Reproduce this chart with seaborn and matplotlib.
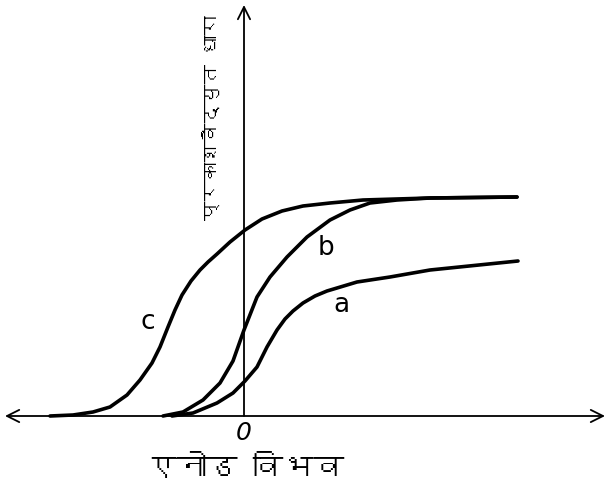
"""
plot.py

Photoelectric current vs anode potential (hand-drawn textbook sketch).
Three curves a, b, c; Hindi axis labels.
"""

import matplotlib
matplotlib.use("Agg")
import matplotlib.pyplot as plt
from matplotlib import font_manager
from matplotlib.ft2font import FT2Font
import pandas as pd
import seaborn as sns

# ==========================================
# DATA (arbitrary units)
# ==========================================
c_x = [-19.4, -17.1, -15.1, -13.4, -11.7, -10.4, -9.2, -8.4, -7.6, -6.9, -6.2, -5.3, -4.4,
       -3.6, -2.7, -1.4, 0.1, 1.8, 3.8, 5.9, 8.6, 11.9, 18.6, 27.3]
c_y = [0.0, 0.1, 0.4, 0.9, 2.1, 3.6, 5.3, 6.9, 8.9, 10.6, 12.1, 13.5, 14.6,
       15.4, 16.2, 17.4, 18.6, 19.7, 20.5, 21.0, 21.3, 21.6, 21.8, 21.9]

b_x = [-8.1, -6.1, -4.1, -2.4, -1.1, 0.0, 1.3, 2.6, 4.3, 6.3, 8.6, 10.6, 12.6, 15.3, 18.6, 27.3]
b_y = [0.0, 0.4, 1.6, 3.3, 5.5, 8.6, 11.9, 13.9, 15.9, 17.9, 19.6, 20.6, 21.3, 21.6, 21.8, 21.9]

a_x = [-7.2, -5.1, -2.7, -1.1, 0.1, 1.3, 2.3, 3.3, 4.1, 4.9, 5.9, 7.1, 8.3, 11.3, 14.6, 18.6, 27.4]
a_y = [0.0, 0.3, 1.3, 2.3, 3.5, 4.9, 6.9, 8.6, 9.7, 10.5, 11.3, 12.0, 12.5, 13.4, 13.9, 14.6, 15.5]

curve_names = ["c", "b", "a"]
curve_labels = {"c": (-9.6, 9.4), "b": (8.2, 16.8), "a": (9.7, 11.1)}

x_label = "एनोड विभव"
y_label = "प्रकाशवैद्युत धारा"
origin_label = "0"


def devanagari_font():
    # look for any installed family that actually has Devanagari glyphs
    for f in font_manager.fontManager.ttflist:
        try:
            cmap = FT2Font(f.fname).get_charmap()
        except Exception:
            continue
        if 0x0915 in cmap and 0x093F in cmap:
            return f.name
    return None


def main():
    sns.set_theme(style="white")
    plt.rcParams["font.family"] = ["DejaVu Sans"]
    plt.rcParams["text.color"] = "black"
    hindi = devanagari_font()
    hindi_family = [hindi, "DejaVu Sans"] if hindi else ["DejaVu Sans"]

    df = pd.concat([
        pd.DataFrame({"x": c_x, "y": c_y, "curve": "c"}),
        pd.DataFrame({"x": b_x, "y": b_y, "curve": "b"}),
        pd.DataFrame({"x": a_x, "y": a_y, "curve": "a"}),
    ], ignore_index=True)

    fig = plt.figure(figsize=(6.06, 4.99), dpi=100)
    ax = fig.add_axes([0, 0, 1, 1])

    sns.lineplot(
        data=df, x="x", y="y", hue="curve", hue_order=curve_names,
        palette={k: "black" for k in curve_names}, sort=False, estimator=None,
        linewidth=2.6, legend=False, ax=ax,
    )
    for line in ax.lines:
        line.set_solid_capstyle("round")
        line.set_solid_joinstyle("round")

    # axes drawn as arrows
    ax.annotate("", xy=(-23.9, 0), xytext=(36.1, 0),
                arrowprops=dict(arrowstyle="<->", lw=1.3, color="black",
                                mutation_scale=22, shrinkA=0, shrinkB=0))
    ax.annotate("", xy=(0, 41.1), xytext=(0, 0),
                arrowprops=dict(arrowstyle="->", lw=1.3, color="black",
                                mutation_scale=22, shrinkA=0, shrinkB=0))

    for name in curve_names:
        lx, ly = curve_labels[name]
        ax.text(lx, ly, name, fontsize=19, ha="center", va="center", color="black")

    ax.text(0, -1.7, origin_label, fontsize=18, ha="center", va="center",
            style="italic", color="black")
    ax.text(0.1, -5.2, x_label, fontsize=22, ha="center", va="center",
            family=hindi_family, color="black")
    ax.text(-3.3, 29.8, y_label, fontsize=14, ha="center", va="center",
            rotation=90, family=hindi_family, color="black")

    ax.set_xlim(-24.4, 36.2)
    ax.set_ylim(-8.3, 41.6)
    ax.set_axis_off()

    fig.savefig("out.png", dpi=100)


if __name__ == "__main__":
    main()
